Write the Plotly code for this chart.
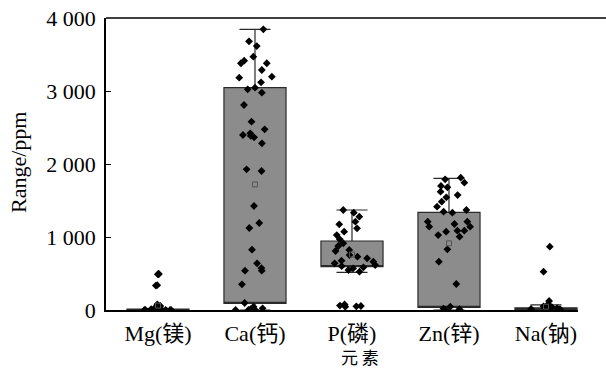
import plotly.graph_objects as go

categories = ["Mg(镁)", "Ca(钙)", "P(磷)", "Zn(锌)", "Na(钠)"]

q1_vals = [0, 92, 593, 37, 0]
q3_vals = [12, 3045, 945, 1338, 30]
lower_vals = [0, 0, 516, 0, 0]
upper_vals = [20, 3845, 1370, 1804, 70]
mean_vals = [60, 1720, 760, 913, 45]

mg_points = [493, 493, 488, 335, 340, 78, 55, 40, 30, 25, 20, 15, 12, 10, 8, 5, 3, 2, 0, 0, 0, 0]
ca_points = [3845, 3680, 3616, 3470, 3415, 3380, 3380, 3288, 3196, 3182, 3119, 3046, 3023,
             2977, 2808, 2580, 2475, 2420, 2397, 2384, 2365, 2283, 1927, 1904, 1425, 1192,
             1123, 826, 639, 575, 539, 539, 352, 96, 46, 23, 10, 5, 0, 0]
p_points = [1370, 1333, 1279, 1210, 1174, 1119, 1073, 1027, 968, 913, 877, 822, 808, 753,
            730, 708, 676, 662, 639, 616, 600, 584, 570, 548, 525, 75, 60, 55, 50, 45]
zn_points = [1813, 1790, 1744, 1699, 1680, 1621, 1575, 1543, 1484, 1415, 1370, 1347, 1333,
             1210, 1210, 1178, 1142, 1142, 1087, 1087, 1073, 1027, 1005, 831, 662, 356, 45,
             20, 10, 5]
na_points = [868, 525, 123, 70, 60, 50, 40, 35, 30, 25, 20, 15, 10, 5]

y_ticks = [0, 1000, 2000, 3000, 4000]

FONT = "Liberation Serif, Times New Roman, Noto Sans CJK SC, serif"
W, H = 606, 370
ML, MR, MT, MB = 106, 28, 18, 60
PW = W - ML - MR
PH = H - MT - MB

fig = go.Figure()
fig.add_trace(go.Box(
    x=categories,
    y=[mg_points, ca_points, p_points, zn_points, na_points],
    q1=q1_vals, median=q1_vals, q3=q3_vals,
    lowerfence=lower_vals, upperfence=upper_vals,
    boxpoints="all", jitter=0.75, pointpos=0,
    width=0.64, whiskerwidth=0.5,
    fillcolor="#8c8c8c",
    line=dict(color="#2a2a2a", width=1.2),
    marker=dict(symbol="diamond", size=6, color="black"),
    showlegend=False, hoverinfo="skip",
))
fig.add_trace(go.Scatter(
    x=categories, y=mean_vals, mode="markers",
    marker=dict(symbol="square-open", size=5, color="#555555", line=dict(width=1)),
    showlegend=False, hoverinfo="skip",
))

fig.add_shape(type="line", xref="paper", yref="paper", x0=0, x1=(W - ML) / PW, y0=1, y1=1,
              line=dict(color="black", width=1.5))

fig.add_annotation(text="元 素", xref="paper", yref="paper", x=(360 - ML) / PW, y=0,
                   yshift=-46, showarrow=False, yanchor="middle", xanchor="center",
                   font=dict(family="Noto Sans CJK SC", size=17, color="black"))
fig.add_annotation(text="Range/ppm", xref="paper", yref="paper", x=(18 - ML) / PW,
                   y=(H - MB - 163) / PH, textangle=-90, showarrow=False,
                   xanchor="center", yanchor="middle",
                   font=dict(family=FONT, size=22, color="black"))

fig.update_layout(
    width=W, height=H,
    margin=dict(l=ML, r=MR, t=MT, b=MB),
    paper_bgcolor="white", plot_bgcolor="white",
    separators=". ",
    font=dict(family=FONT, size=22, color="black"),
    xaxis=dict(
        range=[-0.536, 4.33], showline=True, linecolor="black", linewidth=1.5,
        ticks="", showgrid=False, zeroline=False, automargin=False,
        ticklabelstandoff=3,
        tickfont=dict(family=FONT, size=22),
    ),
    yaxis=dict(
        range=[0, 4000], tickvals=y_ticks, tickformat=",d",
        showline=True, linecolor="black", linewidth=1.5,
        ticks="inside", ticklen=5, tickcolor="black", tickwidth=1.2,
        showgrid=False, zeroline=False, automargin=False,
        ticklabelstandoff=4,
        tickfont=dict(family=FONT, size=22),
    ),
)

fig.write_html(
    "out.html",
    config={"displayModeBar": False},
    post_script="document.body.style.margin='0';document.documentElement.style.overflow='hidden';",
)
